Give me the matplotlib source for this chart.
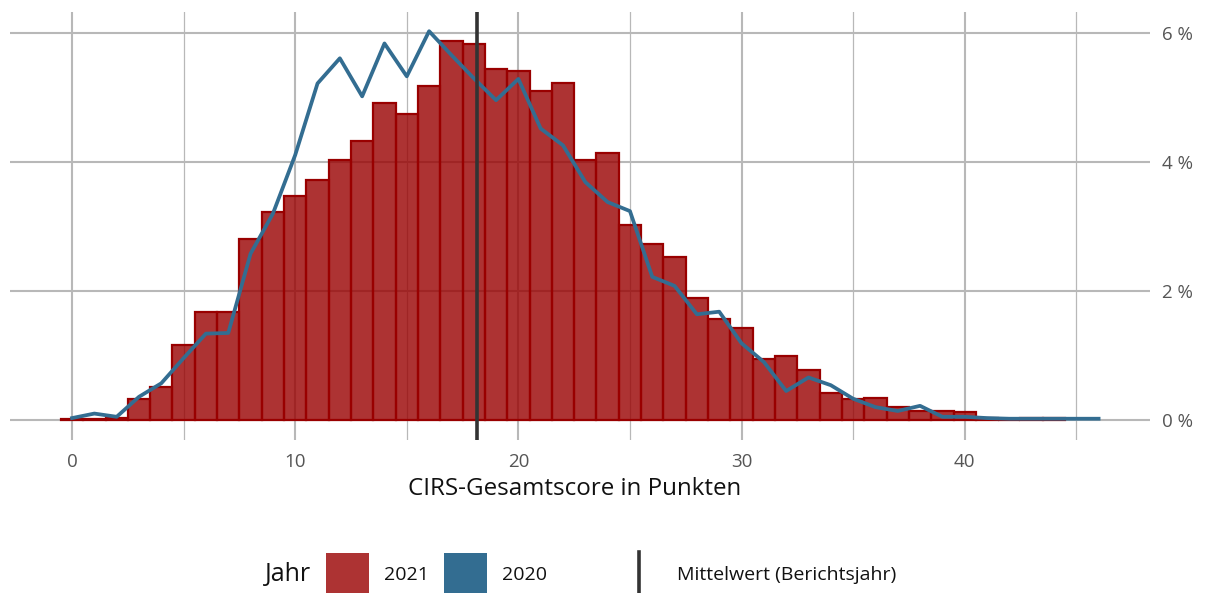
import numpy as np
import matplotlib.pyplot as plt
from matplotlib.patches import Rectangle
from matplotlib.lines import Line2D

# Anteil (%) je CIRS-Gesamtscore, Berichtsjahr 2021 (Balken)
scores_2021 = list(range(0, 45))
share_2021 = [0.02, 0.02, 0.03, 0.32, 0.51, 1.16, 1.68, 1.68, 2.81, 3.22,
              3.48, 3.72, 4.04, 4.33, 4.91, 4.74, 5.18, 5.88, 5.83, 5.44,
              5.42, 5.10, 5.22, 4.03, 4.14, 3.03, 2.73, 2.53, 1.90, 1.56,
              1.42, 0.95, 0.99, 0.78, 0.42, 0.32, 0.34, 0.20, 0.14, 0.14,
              0.12, 0.03, 0.0, 0.03, 0.03]

# Vorjahr 2020 (Linie)
scores_2020 = list(range(0, 47))
share_2020 = [0.03, 0.10, 0.05, 0.36, 0.57, 0.96, 1.34, 1.35, 2.58, 3.20,
              4.11, 5.22, 5.61, 5.02, 5.84, 5.33, 6.03, 5.66, 5.30, 4.96,
              5.29, 4.52, 4.26, 3.69, 3.38, 3.24, 2.22, 2.08, 1.64, 1.68,
              1.19, 0.90, 0.45, 0.66, 0.54, 0.33, 0.20, 0.14, 0.22, 0.05,
              0.05, 0.03, 0.02, 0.02, 0.02, 0.02, 0.02]

mean_2021 = 18.15

x_ticks = [0, 10, 20, 30, 40]
y_ticks = [0, 2, 4, 6]

red_fill = (0.6, 0.0, 0.0, 0.8)
red_edge = '#990000'
blue = '#336d91'
grid_col = '#b8b8b8'
font = 'Open Sans'

fig = plt.figure(figsize=(12.05, 5.93), dpi=100)
ax = fig.add_axes([0.0083, 0.258, 0.946, 0.722])

ax.bar(scores_2021, share_2021, width=1.0, facecolor=red_fill,
       edgecolor=red_edge, linewidth=1.6, zorder=2)
ax.plot(scores_2020, share_2020, color=blue, linewidth=2.7, zorder=3)
ax.axvline(mean_2021, color='#333333', linewidth=2.6, zorder=4)

ax.set_xlim(-2.78, 48.3)
ax.set_ylim(-0.31, 6.33)
ax.set_xticks(x_ticks)
ax.set_xticks([5, 15, 25, 35, 45], minor=True)
ax.set_yticks(y_ticks)
ax.set_yticklabels([f'{v} %' for v in y_ticks])
ax.yaxis.tick_right()

ax.grid(True, which='major', color=grid_col, linewidth=1.5, zorder=0)
ax.grid(True, which='minor', axis='x', color=grid_col, linewidth=0.9, zorder=0)
ax.set_axisbelow(True)
for s in ax.spines.values():
    s.set_visible(False)
ax.tick_params(which='both', length=0)
ax.tick_params(axis='x', pad=9, labelsize=13.5, labelcolor='#555555')
ax.tick_params(axis='y', pad=9, labelsize=13.5, labelcolor='#555555')
for lab in ax.get_xticklabels() + ax.get_yticklabels():
    lab.set_family(font)

fig.text(0.477, 0.175, 'CIRS-Gesamtscore in Punkten', ha='center', va='center',
         fontsize=17.4, family=font, color='#111111')

# Legende
leg_y = 0.031
fig.text(0.220, leg_y, 'Jahr', ha='left', va='center', fontsize=18,
         family=font, color='#111111')
fig.patches.append(Rectangle((0.2705, -0.002), 0.0357, 0.069, transform=fig.transFigure,
                             facecolor=red_fill, edgecolor='none'))
fig.text(0.3185, leg_y, '2021', ha='left', va='center', fontsize=14,
         family=font, color='#111111')
fig.patches.append(Rectangle((0.3685, -0.002), 0.0357, 0.069, transform=fig.transFigure,
                             facecolor=blue, edgecolor='none'))
fig.text(0.4165, leg_y, '2020', ha='left', va='center', fontsize=14,
         family=font, color='#111111')
fig.lines.append(Line2D([0.5303, 0.5303], [0.0, 0.069], transform=fig.transFigure,
                        color='#333333', linewidth=2.6))
fig.text(0.562, leg_y, 'Mittelwert (Berichtsjahr)', ha='left', va='center',
         fontsize=14, family=font, color='#111111')

fig.savefig('out.png', dpi=100)
